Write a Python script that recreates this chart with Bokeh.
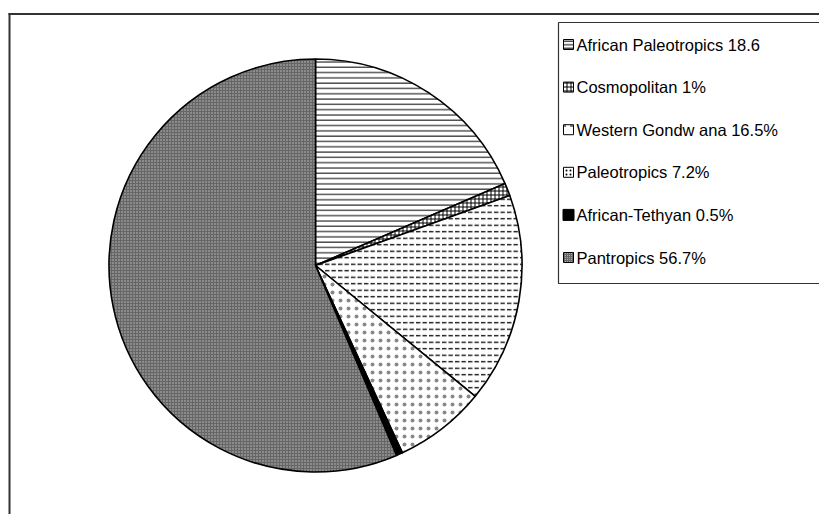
import numpy as np
from bokeh.plotting import figure
from bokeh.models import Range1d
from bokeh.core.properties import value
from bokeh.embed import file_html
from bokeh.resources import INLINE

# ---- data ----
categories = ["African Paleotropics", "Cosmopolitan", "Western Gondwana",
              "Paleotropics", "African-Tethyan", "Pantropics"]
percent = [18.6, 1.0, 16.5, 7.2, 0.5, 56.7]
legend_labels = ["African Paleotropics 18.6", "Cosmopolitan 1%",
                 "Western Gondw ana 16.5%", "Paleotropics 7.2%",
                 "African-Tethyan 0.5%", "Pantropics 56.7%"]

# ---- styles ----
styles = [
    dict(fill_color="white", hatch_pattern="horizontal_line", hatch_color="black", hatch_scale=5.3, hatch_weight=1),
    dict(fill_color="white", hatch_pattern="cross", hatch_color="black", hatch_scale=4, hatch_weight=1),
    dict(fill_color="white", hatch_pattern="horizontal_dash", hatch_color="black", hatch_scale=6.5, hatch_weight=1.3),
    dict(fill_color="white", hatch_pattern="dot", hatch_color="#888888", hatch_scale=8, hatch_weight=1),
    dict(fill_color="black"),
    dict(fill_color="#666666", hatch_pattern="dot", hatch_color="white", hatch_scale=3, hatch_weight=1, hatch_alpha=0.6),
]
icon_styles = [
    dict(fill_color="white", hatch_pattern="horizontal_line", hatch_color="black", hatch_scale=3.5, hatch_weight=1),
    dict(fill_color="white", hatch_pattern="cross", hatch_color="black", hatch_scale=4, hatch_weight=1),
    dict(fill_color="white", hatch_pattern="horizontal_dash", hatch_color="black", hatch_scale=10, hatch_weight=1),
    dict(fill_color="white", hatch_pattern="dot", hatch_color="black", hatch_scale=4, hatch_weight=1),
    dict(fill_color="black"),
    dict(fill_color="#666666", hatch_pattern="dot", hatch_color="white", hatch_scale=2, hatch_weight=1, hatch_alpha=0.6),
]

W, H = 819, 514
p = figure(width=W, height=H, x_range=Range1d(0, W), y_range=Range1d(0, H),
           output_backend="svg", toolbar_location=None, min_border=0,
           x_axis_location=None, y_axis_location=None)
p.grid.visible = False
p.outline_line_color = None
p.background_fill_color = "white"

# chart frame (left and top edges visible; right/bottom cut off)
p.line(x=[9, 9], y=[-10, 501.5], line_color="#333333", line_width=2)
p.line(x=[8, W + 20], y=[500.5, 500.5], line_color="#333333", line_width=2)

# pie
cx, cy, r = 315, 249, 206.5
vals = np.array(percent, dtype=float)
frac = vals / vals.sum()
cum = np.concatenate([[0], np.cumsum(frac)])
starts = np.pi / 2 - 2 * np.pi * cum[:-1]
ends = np.pi / 2 - 2 * np.pi * cum[1:]
for i in range(len(vals)):
    p.wedge(x=cx, y=cy, radius=r, start_angle=starts[i], end_angle=ends[i],
            direction="clock", line_color="black", line_width=1.6, **styles[i])

# legend box
p.quad(left=[558], right=[W + 20], top=[492], bottom=[231],
       fill_color="white", line_color="#333333", line_width=1.2)
row_y = 470 - 42.6 * np.arange(len(categories))
for i in range(len(categories)):
    sz = 11 if i == 4 else 10
    p.rect(x=[568], y=[row_y[i]], width=sz, height=sz,
           line_color="black", line_width=1, **icon_styles[i])
p.text(x=[576] * len(categories), y=list(row_y), text=legend_labels,
       text_font=value("Liberation Sans"), text_font_size="16.5px",
       text_baseline="middle", text_align="left", text_color="black")

open("out.html", "w").write(file_html(p, INLINE))
